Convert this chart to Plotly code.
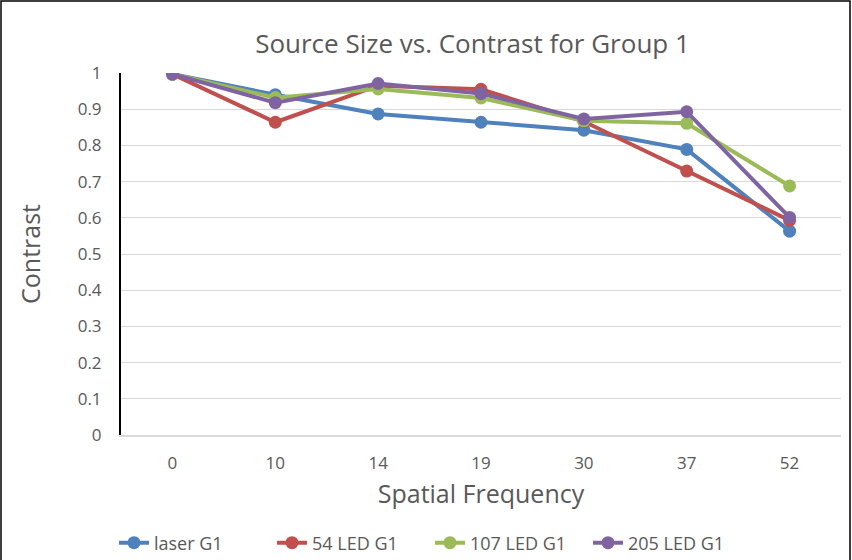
import plotly.graph_objects as go

categories = ["0", "10", "14", "19", "30", "37", "52"]
laser_g1 = [0.997, 0.940, 0.887, 0.864, 0.842, 0.789, 0.563]
led54_g1 = [0.997, 0.864, 0.965, 0.955, 0.866, 0.729, 0.593]
led107_g1 = [0.997, 0.932, 0.956, 0.931, 0.868, 0.861, 0.688]
led205_g1 = [0.997, 0.918, 0.971, 0.943, 0.873, 0.893, 0.601]
y_ticks = [0, 0.1, 0.2, 0.3, 0.4, 0.5, 0.6, 0.7, 0.8, 0.9, 1]
y_tick_text = ["0", "0.1", "0.2", "0.3", "0.4", "0.5", "0.6", "0.7", "0.8", "0.9", "1"]

series = [
    ("laser G1", laser_g1, "#4F81BD"),
    ("54 LED G1", led54_g1, "#C0504D"),
    ("107 LED G1", led107_g1, "#9BBB59"),
    ("205 LED G1", led205_g1, "#8064A2"),
]

fig = go.Figure()
for name, vals, col in series:
    fig.add_trace(go.Scatter(
        x=categories, y=vals, name=name, mode="lines+markers",
        line=dict(color=col, width=4),
        marker=dict(color=col, size=13),
    ))

L, R, T, B = 121, 11, 73, 125
W, H = 852, 560
pw, ph = W - L - R, H - T - B
FONT = "Open Sans, Lato, sans-serif"
GREY = "#595959"

fig.update_layout(
    width=W, height=H,
    margin=dict(l=L, r=R, t=T, b=B, pad=0, autoexpand=False),
    paper_bgcolor="white", plot_bgcolor="white",
    font=dict(family=FONT, color=GREY),
    title=dict(text="Source Size vs. Contrast for Group 1", x=(237 + 708) / 2 / W, xanchor="center",
               xref="container", yref="container",
               y=1 - 43.5 / H, yanchor="middle",
               font=dict(size=26, color=GREY)),
    xaxis=dict(type="category", range=[-0.5, len(categories) - 0.5],
               showgrid=False, showline=True, linecolor="#D9D9D9",
               linewidth=2, ticks="", tickfont=dict(size=17, color=GREY),
               ticklabelstandoff=12, automargin=False,
               title=dict(text="Spatial Frequency", font=dict(size=25, color=GREY),
                          standoff=12)),
    yaxis=dict(range=[0, 1], tickvals=y_ticks, ticktext=y_tick_text, showgrid=True,
               gridcolor="#D9D9D9", gridwidth=1, showline=True, linecolor="black",
               linewidth=2, zeroline=False, ticks="", automargin=False,
               tickfont=dict(size=17, color=GREY), ticklabelstandoff=14,
               title=dict(text="Contrast", font=dict(size=25, color=GREY),
                          standoff=30)),
    legend=dict(orientation="h", xref="container", yref="container",
                x=114 / W, xanchor="left", y=1 - 543 / H,
                yanchor="middle", font=dict(size=18, color=GREY),
                entrywidth=113, entrywidthmode="pixels",
                traceorder="normal"),
    showlegend=True,
)

fig.add_shape(type="rect", xref="paper", yref="paper",
              x0=(1 - L) / pw, x1=(850 - L) / pw,
              y0=(435 - 620) / ph, y1=(435 - 1) / ph,
              line=dict(color="black", width=1.5), fillcolor="rgba(0,0,0,0)", layer="below")

fig.write_html("out.html", config={"displayModeBar": False},
               post_script="document.body.style.margin='0';document.body.style.padding='0';")
